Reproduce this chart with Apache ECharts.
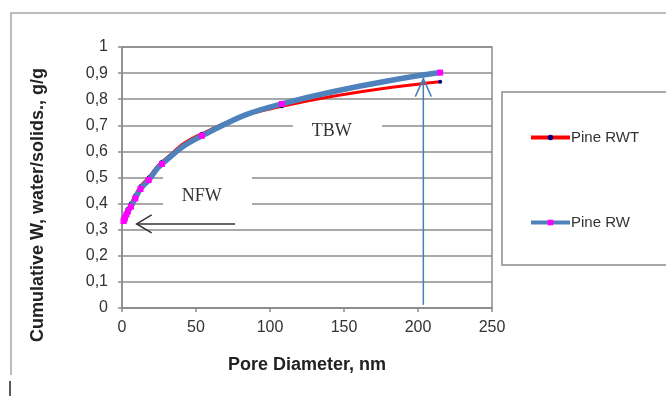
<!DOCTYPE html>
<html>
<head>
<meta charset="utf-8">
<script src="https://cdn.jsdelivr.net/npm/echarts@6/dist/echarts.min.js"></script>
<style>html,body{margin:0;padding:0;background:#fff;}#c{width:666px;height:396px;}</style>
</head>
<body>
<div id="c"></div>
<script>
// ---- data ----
const poreDiameter = [1, 1.5, 2, 3, 4, 6, 9, 12.5, 18, 27, 54, 108, 215];
const pineRWT = [0.34, 0.346, 0.353, 0.367, 0.38, 0.4, 0.432, 0.466, 0.5, 0.56, 0.668, 0.773, 0.867];
const pineRW  = [0.333, 0.338, 0.345, 0.358, 0.37, 0.388, 0.42, 0.456, 0.49, 0.552, 0.66, 0.782, 0.902];
const xTicks = [0, 50, 100, 150, 200, 250];
const yTicks = ['0', '0,1', '0,2', '0,3', '0,4', '0,5', '0,6', '0,7', '0,8', '0,9', '1'];
const xTitle = 'Pore Diameter, nm';
const yTitle = 'Cumulative W, water/solids., g/g';
// annotations (data coordinates)
const tbwLabel = {text: 'TBW', at: [141.7, 0.679], box: [[115.5, 0.62], [175.7, 0.75]]};
const nfwLabel = {text: 'NFW', at: [53.9, 0.429], box: [[27.7, 0.38], [87.8, 0.52]]};
const nfwArrow = {from: [76.4, 0.322], to: [9.9, 0.322]};
const tbwArrow = {from: [203.6, 0.012], to: [203.6, 0.879]};

const chart = echarts.init(document.getElementById('c'), null, {renderer: 'canvas'});
const pair = (a, b) => a.map((v, i) => [v, b[i]]);
const grey = '#8c8c8c';
const font = 'Liberation Sans, Arial';
const option = {
  animation: false,
  backgroundColor: '#fff',
  grid: {left: 122, top: 47, right: 174, bottom: 88, show: true, borderColor: grey, borderWidth: 1.5, backgroundColor: 'transparent'},
  xAxis: {
    type: 'value', min: 0, max: 250, interval: 50,
    name: xTitle, nameLocation: 'middle', nameGap: 48,
    nameTextStyle: {fontFamily: font, fontWeight: 'bold', fontSize: 18, color: '#222'},
    axisLine: {show: true, lineStyle: {color: grey, width: 1.5}},
    axisTick: {show: true, inside: false, length: 4, lineStyle: {color: grey, width: 1.5}},
    axisLabel: {margin: 12, fontFamily: font, fontSize: 16, color: '#333',
      formatter: v => String(xTicks[xTicks.indexOf(v)])},
    splitLine: {show: false}
  },
  yAxis: {
    type: 'value', min: 0, max: 1, interval: 0.1,
    axisLine: {show: true, lineStyle: {color: grey, width: 1.5}},
    axisTick: {show: true, inside: false, length: 4, lineStyle: {color: grey, width: 1.5}},
    axisLabel: {margin: 14, fontFamily: font, fontSize: 16, color: '#333',
      formatter: v => yTicks[Math.round(v * 10)]},
    splitLine: {show: true, lineStyle: {color: grey, width: 1.5}}
  },
  legend: {
    orient: 'vertical', left: 502, top: 92,
    padding: [38, 80, 35, 27], itemGap: 70, itemWidth: 39, itemHeight: 7,
    borderColor: grey, borderWidth: 1.5, backgroundColor: '#fff',
    textStyle: {fontFamily: font, fontSize: 15, color: '#333', padding: [0, 0, 0, -4]},
    data: [
      {name: 'Pine RWT', lineStyle: {width: 4, color: '#ff0000'}, itemStyle: {color: '#000080'}},
      {name: 'Pine RW', lineStyle: {width: 4, color: '#4f81bd'}, itemStyle: {color: '#ff00ff'}}
    ]
  },
  series: [
    {name: 'Pine RWT', type: 'line', data: pair(poreDiameter, pineRWT), smooth: 0.5,
      lineStyle: {color: '#ff0000', width: 3}, itemStyle: {color: '#000080'},
      symbol: 'circle', symbolSize: 4, z: 2},
    {name: 'Pine RW', type: 'line', data: pair(poreDiameter, pineRW), smooth: 0.5,
      lineStyle: {color: '#4f81bd', width: 5.5}, itemStyle: {color: '#ff00ff'},
      symbol: 'rect', symbolSize: 6, z: 3}
  ]
};
chart.setOption(option);

function px(p) { return chart.convertToPixel({gridIndex: 0}, p); }
function boxRect(lbl) {
  const a = px(lbl.box[0]), b = px(lbl.box[1]);
  return {type: 'rect', z: 50, shape: {x: Math.min(a[0], b[0]), y: Math.min(a[1], b[1]), width: Math.abs(b[0] - a[0]), height: Math.abs(b[1] - a[1])}, style: {fill: '#fff'}};
}
function labelText(lbl) {
  const p = px(lbl.at);
  return {type: 'text', z: 51, x: p[0], y: p[1], style: {text: lbl.text, fill: '#333', font: '18px "Liberation Serif", "Times New Roman", serif', align: 'center', verticalAlign: 'middle'}};
}
const nf = px(nfwArrow.from), nt = px(nfwArrow.to);
const tf = px(tbwArrow.from), tt = px(tbwArrow.to);
const blue = '#4a7ebb';
chart.setOption({
  graphic: [
    // outer frame
    {type: 'polyline', z: 1, shape: {points: [[11, 375], [11, 13], [680, 13]]}, style: {stroke: '#a6a6a6', lineWidth: 1.5, fill: null}},
    {type: 'line', z: 1, shape: {x1: 10, y1: 381, x2: 10, y2: 396}, style: {stroke: '#222', lineWidth: 1.5}},
    // y-axis title
    {type: 'text', z: 10, x: 38, y: 205, rotation: Math.PI / 2,
      style: {text: yTitle, fill: '#222', font: 'bold 18px "Liberation Sans", Arial', align: 'center', verticalAlign: 'middle'}},
    boxRect(tbwLabel), boxRect(nfwLabel), labelText(tbwLabel), labelText(nfwLabel),
    // NFW arrow
    {type: 'line', z: 52, shape: {x1: nf[0], y1: nf[1], x2: nt[0], y2: nt[1]}, style: {stroke: '#333', lineWidth: 1.5}},
    {type: 'polyline', z: 52, shape: {points: [[nt[0] + 15, nt[1] - 9], [nt[0], nt[1]], [nt[0] + 15, nt[1] + 9]]}, style: {stroke: '#333', lineWidth: 1.5, fill: null}},
    // TBW arrow
    {type: 'line', z: 52, shape: {x1: tf[0], y1: tf[1], x2: tt[0], y2: tt[1]}, style: {stroke: blue, lineWidth: 1.5}},
    {type: 'polyline', z: 52, shape: {points: [[tt[0] - 8, tt[1] + 18], [tt[0], tt[1]], [tt[0] + 8, tt[1] + 18]]}, style: {stroke: blue, lineWidth: 1.5, fill: null}}
  ]
});
</script>
</body>
</html>
